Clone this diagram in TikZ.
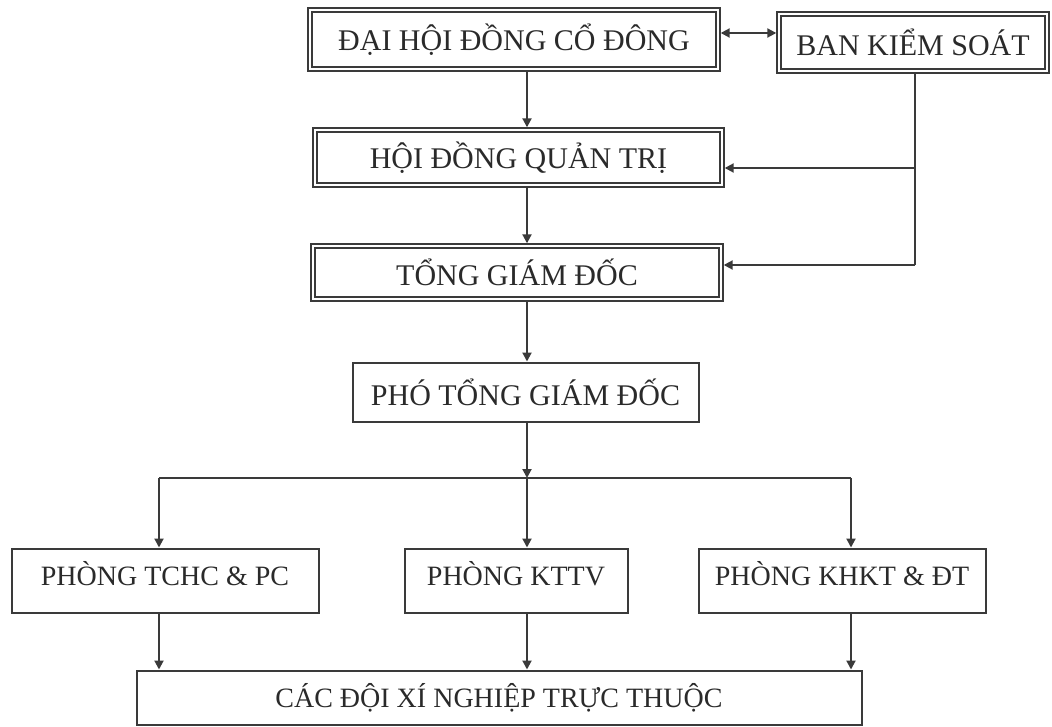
\documentclass[tikz,border=0pt]{standalone}
\usepackage{fontspec}
\setmainfont{Liberation Serif}
\usetikzlibrary{arrows.meta}
\definecolor{ink}{HTML}{2A2A2A}
\definecolor{edge}{HTML}{3A3A3A}
\begin{document}
\begin{tikzpicture}[x=1pt,y=-1pt,
  txt/.style={text=ink,font=\fontsize{30}{33}\selectfont,inner sep=0pt},
  txts/.style={text=ink,font=\fontsize{28}{31}\selectfont,inner sep=0pt},
  dbox/.style={txt,draw=edge,line width=1.7pt,double=white,double distance=2pt,outer sep=2.7pt},
  sbox/.style={draw=edge,line width=2pt,outer sep=1pt},
  conn/.style={draw=edge,line width=2pt},
  arr/.style={conn,-{Triangle[length=9pt,width=9pt]}},
  arrb/.style={conn,{Triangle[length=9pt,width=9pt]}-{Triangle[length=9pt,width=9pt]}}]
\useasboundingbox (0,0) rectangle (1052,727);
\fill[white] (0,0) rectangle (1052,727);
\node[dbox,minimum width=408pt,minimum height=59pt] (dhd) at (514,39.5) {ĐẠI HỘI ĐỒNG CỔ ĐÔNG};
\node[dbox,minimum width=268pt,minimum height=57pt] (bks) at (913,42.5) {BAN KIỂM SOÁT};
\node[dbox,minimum width=407pt,minimum height=55pt] (hdqt) at (518.5,157.5) {HỘI ĐỒNG QUẢN TRỊ};
\node[dbox,minimum width=408pt,minimum height=53pt] (tgd) at (517,272.5) {TỔNG GIÁM ĐỐC};
\node[sbox,txt,minimum width=346pt,minimum height=59pt] (ptgd) at (525.5,392) {PHÓ TỔNG GIÁM ĐỐC};
\node[sbox,txts,text height=20pt,text depth=11pt,minimum width=307pt,minimum height=64pt] (tchc) at (165,580.5) {PHÒNG TCHC \& PC};
\node[sbox,txts,text height=20pt,text depth=11pt,minimum width=223pt,minimum height=64pt] (kttv) at (516,580.5) {PHÒNG KTTV};
\node[sbox,txts,text height=20pt,text depth=11pt,minimum width=287pt,minimum height=64pt] (khkt) at (842,580.5) {PHÒNG KHKT \& ĐT};
\node[sbox,txts,minimum width=725pt,minimum height=54pt] (xn) at (499,697.5) {CÁC ĐỘI XÍ NGHIỆP TRỰC THUỘC};
\coordinate (cx) at (527,0);
\coordinate (bl) at (159,478);
\coordinate (bc) at (527,478);
\coordinate (br) at (851,478);
\coordinate (j1) at (915,168);
\coordinate (j2) at (915,265);
\coordinate (hy) at (0,33);
% top connectors
\draw[arrb] (dhd.east |- hy) -- (bks.west |- hy);
\draw[arr] (dhd.south -| cx) -- (hdqt.north -| cx);
\draw[arr] (hdqt.south -| cx) -- (tgd.north -| cx);
\draw[arr] (tgd.south -| cx) -- (ptgd.north -| cx);
\draw[conn] (bks.south -| j2) -- (j2);
\draw[arr] (j2) -- (tgd.east |- j2);
\draw[arr] (j1) -- (hdqt.east |- j1);
% bus
\draw[arr] (ptgd.south -| cx) -- (bc);
\draw[conn] (bl) -- (br);
\draw[arr] (bl) -- (tchc.north -| bl);
\draw[arr] (bc) -- (kttv.north -| bc);
\draw[arr] (br) -- (khkt.north -| br);
\draw[arr] (tchc.south -| bl) -- (xn.north -| bl);
\draw[arr] (kttv.south -| bc) -- (xn.north -| bc);
\draw[arr] (khkt.south -| br) -- (xn.north -| br);
\end{tikzpicture}
\end{document}
